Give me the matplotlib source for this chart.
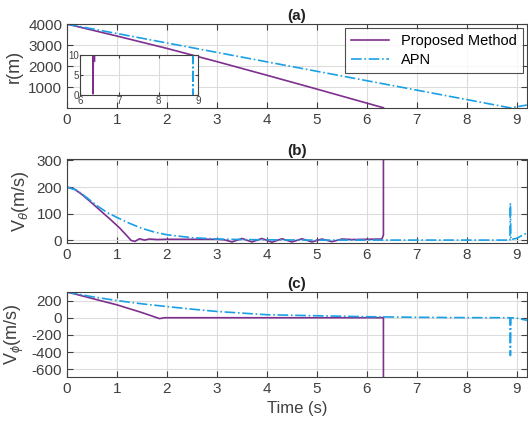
import numpy as np
import matplotlib
matplotlib.use('Agg')
import matplotlib.pyplot as plt

plt.rcParams['font.family'] = ['Liberation Sans', 'DejaVu Sans']
plt.rcParams['mathtext.fontset'] = 'custom'
plt.rcParams['mathtext.it'] = 'Liberation Sans:italic'
plt.rcParams['mathtext.rm'] = 'Liberation Sans'
plt.rcParams['axes.unicode_minus'] = False

purple = '#7E2F8E'
blue = '#1AA0E6'
gris = '#404040'

# (a) distancia relativa
t_r_pm = [0, 1, 2, 3, 4, 5, 6, 6.33]
r_pm = [4000, 3430, 2840, 2210, 1560, 900, 230, 10]
t_r_apn = [0, 1, 2, 3, 4, 5, 6, 7, 8, 8.87, 9.2]
r_apn = [4000, 3550, 3100, 2650, 2200, 1750, 1300, 850, 400, 5, 140]

# (a) inset: zoom de r cerca de 0
t_in_pm = [6.33, 6.33, 6.34, 6.37, 6.37]
r_in_pm = [10.5, 0.3, 10.5, 10.5, 8.5]
t_in_apn = [8.87, 8.87, 8.88, 8.88]
r_in_apn = [10.5, 0.3, 0.3, 10.5]

# (b) V_theta
t_vt_pm = [0, 0.15, 0.3, 0.45, 0.6, 0.75, 0.9, 1.05, 1.2, 1.28, 1.36, 1.45, 1.55, 1.65, 1.8, 2.0,
           2.5, 3.0, 3.15, 3.3, 3.5, 3.7, 3.9, 4.1, 4.3, 4.5, 4.7, 4.9, 5.1, 5.3, 5.5, 5.7,
           6.0, 6.3, 6.33, 6.33]
vt_pm = [200, 192, 172, 148, 123, 98, 73, 47, 17, 0, -4, 6, 1, 5, 3, 4,
         4, 4, 2, -6, 7, -6, 7, -7, 6, -6, 6, -6, 5, -5, 5, 3,
         4, 5, 20, 330]
t_vt_apn = [0, 0.2, 0.4, 0.6, 0.8, 1.0, 1.25, 1.5, 1.75, 2.0, 2.5, 3.0, 3.5, 4.0, 5.0, 6.0, 7.0, 8.0,
            8.86, 8.87, 8.88, 9.0, 9.2]
vt_apn = [200, 188, 160, 130, 105, 86, 64, 45, 31, 21, 10, 5, 3, 2, 1, 1, 1, 1,
          1, 140, 3, 8, 28]

# (c) V_phi
t_vp_pm = [0, 0.5, 1.0, 1.5, 1.85, 1.95, 2.5, 4, 6.3, 6.33, 6.33]
vp_pm = [300, 225, 150, 60, -10, 0, 0, 0, 0, 5, -720]
t_vp_apn = [0, 0.5, 1, 1.5, 2, 2.5, 3, 4, 5, 6, 7, 8, 8.86, 8.87, 8.88, 9.0, 9.2]
vp_apn = [300, 245, 200, 162, 130, 100, 73, 35, 23, 12, 5, 1, 0, -440, 0, -5, -30]

xticks = [0, 1, 2, 3, 4, 5, 6, 7, 8, 9]


def estilo(ax, fs=11):
    ax.grid(True, color='#dcdcdc', linewidth=0.8)
    ax.set_axisbelow(True)
    for s in ax.spines.values():
        s.set_color(gris)
        s.set_linewidth(0.8)
    ax.tick_params(direction='in', top=True, right=True, colors=gris,
                   labelcolor=gris, labelsize=fs, length=4, width=0.8)


fig = plt.figure(figsize=(5.28, 4.28), dpi=100)

ax1 = fig.add_axes([0.1269, 0.7477, 0.871, 0.196])
ax1.plot(t_r_pm, r_pm, color=purple, linewidth=1.2, label='Proposed Method')
ax1.plot(t_r_apn, r_apn, color=blue, linestyle='-.', linewidth=1.2, label='APN')
ax1.set_xlim(0, 9.2)
ax1.set_ylim(0, 4000)
ax1.set_xticks(xticks)
ax1.set_yticks([1000, 2000, 3000, 4000])
ax1.set_ylabel('r(m)', fontsize=13, color=gris)
ax1.set_title('(a)', fontsize=11, fontweight='bold', color='#222222', pad=3)
estilo(ax1)
leg = ax1.legend(loc='upper right', fontsize=10.5, frameon=True, fancybox=False,
                 borderaxespad=0.3, handlelength=2.6, labelspacing=0.3)
leg.get_frame().set_edgecolor('#222222')
leg.get_frame().set_linewidth(0.8)

axi = fig.add_axes([0.1515, 0.778, 0.2235, 0.0935])
axi.plot(t_in_pm, r_in_pm, color=purple, linewidth=1.2)
axi.plot(t_in_apn, r_in_apn, color=blue, linestyle='-.', linewidth=1.2)
axi.set_xlim(6, 9)
axi.set_ylim(0, 10)
axi.set_xticks([6, 7, 8, 9])
axi.set_yticks([0, 5, 10])
estilo(axi, fs=7)
axi.tick_params(pad=1, length=2.5)

ax2 = fig.add_axes([0.1269, 0.4322, 0.871, 0.196])
ax2.plot(t_vt_pm, vt_pm, color=purple, linewidth=1.2)
ax2.plot(t_vt_apn, vt_apn, color=blue, linestyle='-.', linewidth=1.2)
ax2.set_xlim(0, 9.2)
ax2.set_ylim(-10, 305)
ax2.set_xticks(xticks)
ax2.set_yticks([0, 100, 200, 300])
ax2.set_ylabel(r'V$_{\theta}$(m/s)', fontsize=13, color=gris)
ax2.set_title('(b)', fontsize=11, fontweight='bold', color='#222222', pad=3)
estilo(ax2)

ax3 = fig.add_axes([0.1269, 0.1192, 0.871, 0.1986])
ax3.plot(t_vp_pm, vp_pm, color=purple, linewidth=1.2)
ax3.plot(t_vp_apn, vp_apn, color=blue, linestyle='-.', linewidth=1.2)
ax3.set_xlim(0, 9.2)
ax3.set_ylim(-690, 300)
ax3.set_xticks(xticks)
ax3.set_yticks([-600, -400, -200, 0, 200])
ax3.set_ylabel(r'V$_{\phi}$(m/s)', fontsize=13, color=gris)
ax3.set_xlabel('Time (s)', fontsize=12, color=gris)
ax3.set_title('(c)', fontsize=11, fontweight='bold', color='#222222', pad=3)
estilo(ax3)

fig.align_ylabels([ax1, ax2, ax3])
fig.savefig('out.png', dpi=100)
